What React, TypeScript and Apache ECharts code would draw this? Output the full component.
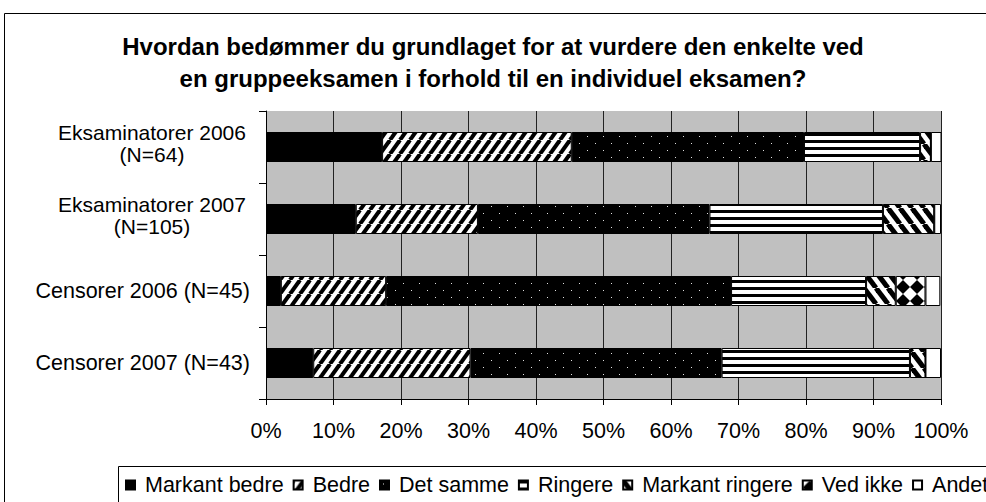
import React, { useEffect, useRef } from "react";
import * as echarts from "echarts";

const categories = [
  "Eksaminatorer 2006\n(N=64)",
  "Eksaminatorer 2007\n(N=105)",
  "Censorer 2006 (N=45)",
  "Censorer 2007 (N=43)",
];
const seriesNames = ["Markant bedre", "Bedre", "Det samme", "Ringere", "Markant ringere", "Ved ikke", "Andet"];
const markantBedre = [17.2, 13.3, 2.2, 7.0];
const bedre = [28.1, 18.1, 15.6, 23.3];
const detSamme = [34.4, 34.3, 51.1, 37.2];
const ringere = [17.2, 25.7, 20.0, 27.9];
const markantRingere = [1.6, 7.6, 4.4, 2.3];
const vedIkke = [0, 0, 4.4, 0];
const andet = [1.6, 1.0, 2.2, 2.3];
const titleLines = [
  "Hvordan bedømmer du grundlaget for at vurdere den enkelte ved",
  "en gruppeeksamen i forhold til en individuel eksamen?",
];

const FONT = '"Liberation Sans", Arial, sans-serif';

function tile(w: number, h: number, draw: (ctx: CanvasRenderingContext2D) => void) {
  const c = document.createElement("canvas");
  c.width = w;
  c.height = h;
  const ctx = c.getContext("2d")!;
  draw(ctx);
  return c;
}

function makePatterns() {
  const solidBlack = "#000000";
  const upDiag = tile(10, 14, (ctx) => {
    ctx.fillStyle = "#fff";
    ctx.fillRect(0, 0, 10, 14);
    ctx.strokeStyle = "#000";
    ctx.lineWidth = 4;
    for (const x0 of [-10, 0, 10]) {
      ctx.beginPath();
      ctx.moveTo(x0, 14);
      ctx.lineTo(x0 + 10, 0);
      ctx.stroke();
    }
  });
  const dots = tile(16, 14, (ctx) => {
    ctx.fillStyle = "#000";
    ctx.fillRect(0, 0, 16, 14);
    ctx.fillStyle = "#e0e0e0";
    ctx.fillRect(3, 3, 1, 1);
    ctx.fillRect(11, 10, 1, 1);
  });
  const hStripes = tile(4, 7, (ctx) => {
    ctx.fillStyle = "#fff";
    ctx.fillRect(0, 0, 4, 7);
    ctx.fillStyle = "#000";
    ctx.fillRect(0, 0, 4, 3);
  });
  const downDiag = tile(12, 16, (ctx) => {
    ctx.fillStyle = "#fff";
    ctx.fillRect(0, 0, 12, 16);
    ctx.strokeStyle = "#000";
    ctx.lineWidth = 5;
    for (const x0 of [-12, 0, 12]) {
      ctx.beginPath();
      ctx.moveTo(x0, 0);
      ctx.lineTo(x0 + 12, 16);
      ctx.stroke();
    }
  });
  const diamonds = tile(14, 14, (ctx) => {
    ctx.fillStyle = "#fff";
    ctx.fillRect(0, 0, 14, 14);
    ctx.fillStyle = "#000";
    ctx.beginPath();
    ctx.moveTo(7, 0);
    ctx.lineTo(14, 7);
    ctx.lineTo(7, 14);
    ctx.lineTo(0, 7);
    ctx.closePath();
    ctx.fill();
  });
  const pat = (c: HTMLCanvasElement) => ({ image: c, repeat: "repeat" });
  return [solidBlack, pat(upDiag), pat(dots), pat(hStripes), pat(downDiag), pat(diamonds), "#ffffff"];
}

export default function App() {
  const ref = useRef<HTMLDivElement>(null);
  useEffect(() => {
    if (!ref.current) return;
    const chart = echarts.init(ref.current, null, { renderer: "svg" });
    const colors = makePatterns();
    const dataSets = [markantBedre, bedre, detSamme, ringere, markantRingere, vedIkke, andet];
    const series = seriesNames.map((name, i) => ({
      name,
      type: "bar",
      stack: "total",
      barWidth: 30,
      data: dataSets[i],
      itemStyle: { color: colors[i] as any, borderColor: "#000", borderWidth: 1 },
      emphasis: { disabled: true },
    }));
    chart.setOption({
      animation: false,
      backgroundColor: "#ffffff",
      title: {
        text: titleLines.join("\n"),
        left: "center",
        top: 25,
        textStyle: { fontFamily: FONT, fontSize: 24, fontWeight: "bold", color: "#000", lineHeight: 32 },
      },
      grid: {
        left: 266,
        right: 45,
        top: 111,
        bottom: 103,
        show: true,
        backgroundColor: "#c0c0c0",
        borderWidth: 0,
      },
      xAxis: {
        type: "value",
        min: 0,
        max: 100,
        interval: 10,
        axisLine: { show: true, lineStyle: { color: "#000", width: 1 } },
        axisTick: { show: true, length: 6, lineStyle: { color: "#000" } },
        axisLabel: {
          formatter: (v: number) => v + "%",
          fontFamily: FONT,
          fontSize: 21.5,
          color: "#000",
          margin: 21,
        },
        splitLine: { show: true, lineStyle: { color: "#222", width: 1 } },
      },
      yAxis: {
        type: "category",
        inverse: true,
        data: categories,
        axisLine: { show: true, lineStyle: { color: "#000", width: 1 } },
        axisTick: { show: true, length: 7, lineStyle: { color: "#000" } },
        axisLabel: {
          margin: 16,
          formatter: (v: string) =>
            v.includes("\n")
              ? v.split("\n").map((l) => `{c|${l}}`).join("\n") + "\n{e|}"
              : `{s|${v}}`,
          rich: {
            c: { width: 196, align: "center", fontFamily: FONT, fontSize: 21, color: "#000", lineHeight: 22 },
            s: { fontFamily: FONT, fontSize: 21.5, color: "#000" },
            e: { fontSize: 1, lineHeight: 8 },
          },
        },
      },
      legend: {
        left: 120,
        top: 469,
        width: 1400,
        icon: "rect",
        itemWidth: 9,
        itemHeight: 9,
        itemGap: 9,
        data: seriesNames,
        textStyle: { fontFamily: FONT, fontSize: 21.5, color: "#000", padding: [0, 0, 0, 5] },
        selectedMode: false,
      },
      graphic: [
        {
          type: "rect",
          shape: { x: 4.5, y: 13.5, width: 1000, height: 600 },
          style: { fill: "none", stroke: "#000", lineWidth: 1 },
          silent: true,
          z: 100,
        },
        {
          type: "rect",
          shape: { x: 118.5, y: 466.5, width: 900, height: 60 },
          style: { fill: "none", stroke: "#000", lineWidth: 1 },
          silent: true,
          z: 100,
        },
      ],
      series,
    } as any);
    return () => chart.dispose();
  }, []);
  return (
    <div
      ref={ref}
      style={{ position: "absolute", left: 0, top: 0, width: 986, height: 502, background: "#fff" }}
    />
  );
}
